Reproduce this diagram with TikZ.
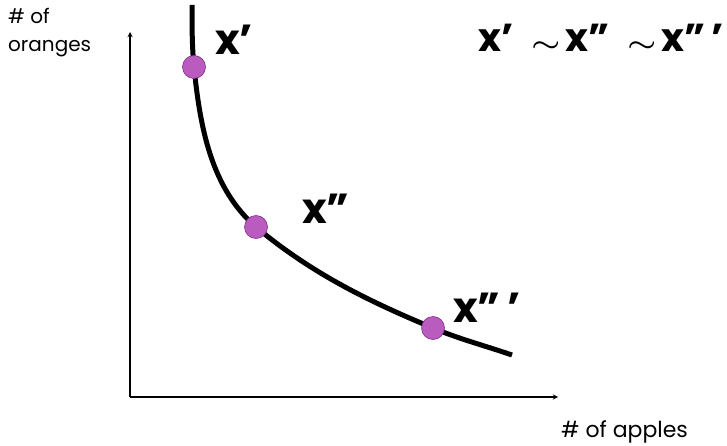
\documentclass[tikz,border=0pt]{standalone}
\usepackage{fontspec}
\setmainfont{Poppins}
\usetikzlibrary{arrows, positioning}
\definecolor{orchid}{RGB}{186,92,191}
\definecolor{darkorchid}{RGB}{128,48,134}
\tikzstyle{bundle} = [circle, minimum size=23pt, inner sep=0pt, fill=orchid, draw=darkorchid, line width=0.6pt]
\tikzstyle{tag} = [font=\fontsize{42}{46}\selectfont\bfseries, inner sep=0pt, anchor=base west]
\tikzstyle{axislabel} = [font=\fontsize{20}{28}\selectfont, align=left, inner sep=0pt]
\tikzstyle{arrow} = [line width=1.3pt,->,>=stealth]
\tikzstyle{curve} = [line width=5pt]
\newcommand{\indiff}{\scalebox{1.3}[1]{\boldmath$\sim$}}

\begin{document}
\begin{tikzpicture}[x=1pt, y=-1pt]
\useasboundingbox (0,0) rectangle (727,446);

% Axes
\coordinate (origin) at (130,397);
\coordinate (ytip) at (130,32);
\coordinate (xtip) at (558,397);
\draw[arrow] (origin) -- (ytip);
\draw[arrow] (origin) -- (xtip);

\node (oranges) [axislabel, anchor=north west] at (8,8) {\# of\\oranges};
\node (apples) [axislabel, font=\fontsize{22}{26}\selectfont, anchor=base west] at (561,437) {\# of apples};

% Indifference curve
\coordinate (top) at (192,5);
\coordinate (pone) at (194,67);
\coordinate (ptwo) at (256,227);
\coordinate (pthree) at (433,328);
\coordinate (bottom) at (512,355);
\draw[curve] (top) .. controls (192,25) and (192,47) .. (pone)
  .. controls (200,127) and (211,188) .. (ptwo)
  .. controls (311,273) and (368,301) .. (pthree)
  .. controls (459,339) and (486,346) .. (bottom);

% Bundles
\node (xone) [bundle] at (pone) {};
\node (xtwo) [bundle] at (ptwo) {};
\node (xthree) [bundle] at (pthree) {};

\node (lone) [tag] at (215,55) {x’};
\node (ltwo) [tag] at (302,223) {x”};
\node (lthree) [tag] at (453,322) {x”\,’};

\node (relation) [tag, font=\fontsize{39}{42}\selectfont\bfseries] at (478,52) {x’\hspace{18pt}\indiff\hspace{5pt}x”\hspace{18pt}\indiff\hspace{5pt}x”\,’};

\end{tikzpicture}
\end{document}
